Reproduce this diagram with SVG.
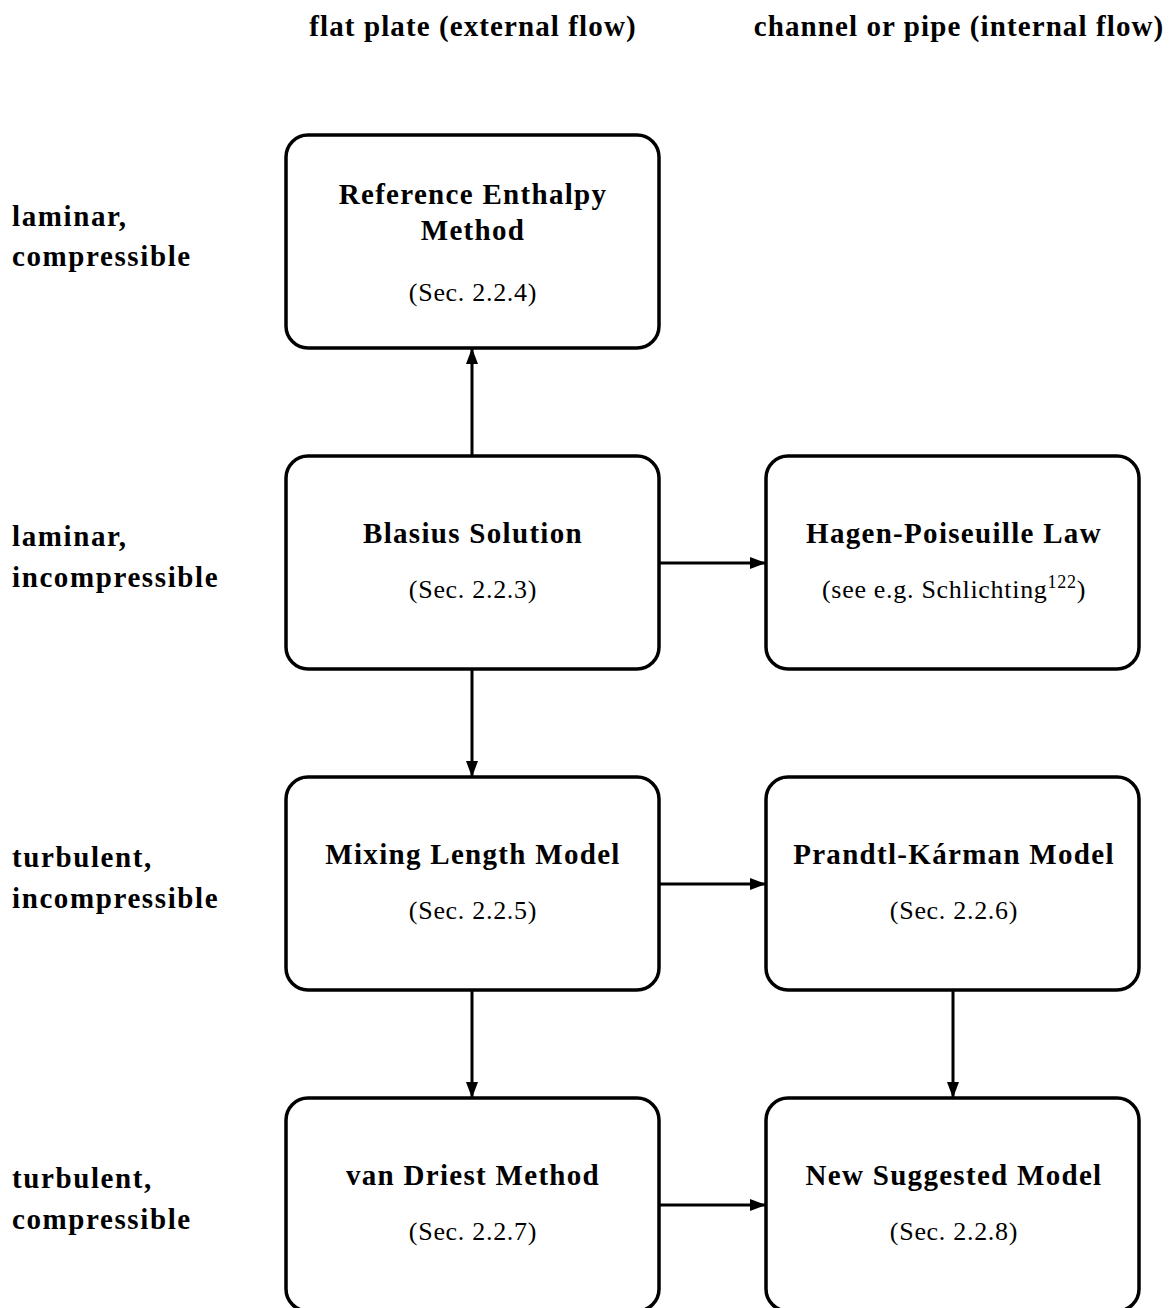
<svg xmlns="http://www.w3.org/2000/svg" width="1170" height="1308" viewBox="0 0 1170 1308">
<style>
  text { font-family: "Liberation Serif", "DejaVu Serif", serif; fill: #000; }
  .hdr { font-size: 29px; font-weight: bold; text-anchor: middle; letter-spacing: 1.1px; }
  .row { font-size: 29px; font-weight: bold; letter-spacing: 1.6px; }
  .t { font-size: 29px; font-weight: bold; text-anchor: middle; letter-spacing: 1.3px; }
  .s { font-size: 26px; text-anchor: middle; letter-spacing: 0.7px; }
  .box { fill: #fff; stroke: #000; stroke-width: 3.5; }
  .c { stroke: #000; stroke-width: 3; fill: none; marker-end: url(#ah); }
</style>
<defs>
  <marker id="ah" markerWidth="16" markerHeight="12" refX="15" refY="6" orient="auto" markerUnits="userSpaceOnUse">
    <path d="M0,0 L16,6 L0,12 Z" fill="#000"/>
  </marker>
</defs>
<rect width="1170" height="1308" fill="#fff"/>
<g id="headers">
  <text class="hdr" x="473" y="36">flat plate (external flow)</text>
  <text class="hdr" x="959" y="36">channel or pipe (internal flow)</text>
</g>
<g id="rowlabels">
  <text class="row" x="12" y="226">laminar,</text>
  <text class="row" x="12" y="266">compressible</text>
  <text class="row" x="12" y="546">laminar,</text>
  <text class="row" x="12" y="587">incompressible</text>
  <text class="row" x="12" y="867">turbulent,</text>
  <text class="row" x="12" y="908">incompressible</text>
  <text class="row" x="12" y="1188">turbulent,</text>
  <text class="row" x="12" y="1229">compressible</text>
</g>
<g id="connectors">
  <line class="c" x1="472" y1="456" x2="472" y2="349"/>
  <line class="c" x1="659" y1="563" x2="765" y2="563"/>
  <line class="c" x1="472" y1="669" x2="472" y2="776"/>
  <line class="c" x1="659" y1="884" x2="765" y2="884"/>
  <line class="c" x1="472" y1="990" x2="472" y2="1097"/>
  <line class="c" x1="953" y1="990" x2="953" y2="1097"/>
  <line class="c" x1="659" y1="1205" x2="765" y2="1205"/>
</g>
<g id="ref-enthalpy">
  <rect class="box" x="286" y="135" width="373" height="213" rx="22"/>
  <text class="t" x="473" y="204">Reference Enthalpy</text>
  <text class="t" x="473" y="240">Method</text>
  <text class="s" x="473" y="301">(Sec. 2.2.4)</text>
</g>
<g id="blasius">
  <rect class="box" x="286" y="456" width="373" height="213" rx="22"/>
  <text class="t" x="473" y="543">Blasius Solution</text>
  <text class="s" x="473" y="598">(Sec. 2.2.3)</text>
</g>
<g id="hagen">
  <rect class="box" x="766" y="456" width="373" height="213" rx="22"/>
  <text class="t" x="954" y="543">Hagen-Poiseuille Law</text>
  <text class="s" x="954" y="598">(see e.g. Schlichting<tspan font-size="18" dy="-10">122</tspan><tspan dy="10">)</tspan></text>
</g>
<g id="mixing">
  <rect class="box" x="286" y="777" width="373" height="213" rx="22"/>
  <text class="t" x="473" y="864">Mixing Length Model</text>
  <text class="s" x="473" y="919">(Sec. 2.2.5)</text>
</g>
<g id="prandtl">
  <rect class="box" x="766" y="777" width="373" height="213" rx="22"/>
  <text class="t" x="954" y="864">Prandtl-Kárman Model</text>
  <text class="s" x="954" y="919">(Sec. 2.2.6)</text>
</g>
<g id="vandriest">
  <rect class="box" x="286" y="1098" width="373" height="213" rx="22"/>
  <text class="t" x="473" y="1185">van Driest Method</text>
  <text class="s" x="473" y="1240">(Sec. 2.2.7)</text>
</g>
<g id="newmodel">
  <rect class="box" x="766" y="1098" width="373" height="213" rx="22"/>
  <text class="t" x="954" y="1185">New Suggested Model</text>
  <text class="s" x="954" y="1240">(Sec. 2.2.8)</text>
</g>
</svg>
